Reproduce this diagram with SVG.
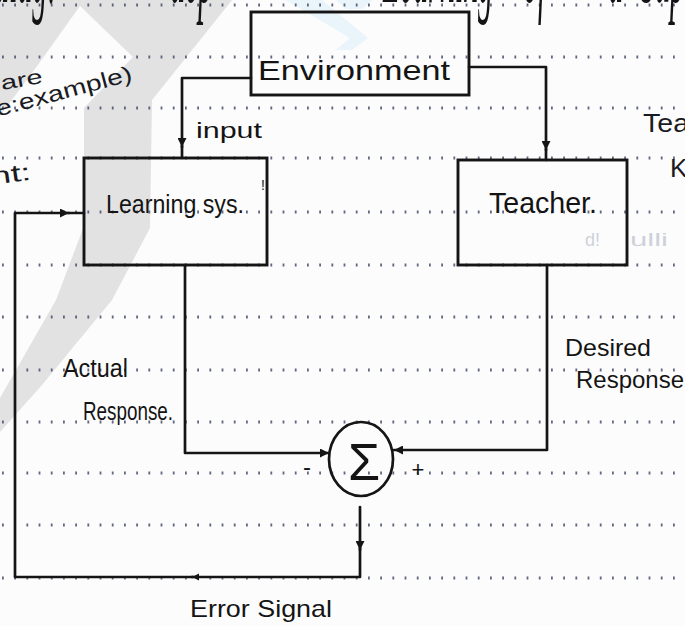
<svg xmlns="http://www.w3.org/2000/svg" width="685" height="626" viewBox="0 0 685 626">
  <defs>
    <style>
      .ink { stroke: #151515; stroke-width: 2.7; fill: none; stroke-linejoin: round; stroke-linecap: round; }
      .box { stroke: #151515; stroke-width: 2.9; fill: none; }
      .rule { stroke: #3e4462; stroke-width: 3; stroke-dasharray: 1.8 10.4; opacity: 0.8; }
      .hand { font-family: "Liberation Sans", "DejaVu Sans", sans-serif; fill: #141414; }
      .note { font-family: "Liberation Sans", "DejaVu Sans", sans-serif; fill: #1a1a22; }
      .ghost { font-family: "Liberation Sans", "DejaVu Sans", sans-serif; fill: #8a90ac; opacity: 0.4; }
      .top { font-family: "Liberation Serif", "DejaVu Serif", serif; font-style: italic; fill: #141414; }
      .wm { fill: #e2e2e2; }
      .wm-blue { fill: #eaf4fb; }
    </style>
    <marker id="arrow" viewBox="0 0 10 10" refX="10" refY="5" markerWidth="10" markerHeight="9" markerUnits="userSpaceOnUse" orient="auto">
      <path d="M0,0 L10,5 L0,10 Z" fill="#151515"/>
    </marker>
    <marker id="tick" viewBox="0 0 10 10" refX="10" refY="5" markerWidth="7" markerHeight="9" markerUnits="userSpaceOnUse" orient="auto">
      <path d="M0,0 L10,5 L0,10 Z" fill="#151515"/>
    </marker>
  </defs>

  <!-- paper -->
  <rect width="685" height="626" fill="#fcfcfc"/>

  <!-- watermark -->
  <g id="watermark">
    <polygon class="wm" points="0,0 84,0 80,6 40,62 0,116"/>
    <polygon class="wm" points="84,0 232,0 152,100 150,228 112,300 42,385 0,432 0,398 56,300 84,226 84,108 133,57 80,6"/>
    <polygon class="wm-blue" points="286,0 322,0 368,38 352,50 336,50 350,38"/>
    <polygon class="wm-blue" points="336,0 372,0 362,9 346,9"/>
  </g>

  <!-- ruled lines of the paper -->
  <g id="rules">
    <line class="rule" x1="2" y1="5" x2="685" y2="5"/>
    <line class="rule" x1="2" y1="57" x2="685" y2="57"/>
    <line class="rule" x1="2" y1="108" x2="685" y2="108"/>
    <line class="rule" x1="2" y1="158" x2="685" y2="158"/>
    <line class="rule" x1="2" y1="212" x2="685" y2="212"/>
    <line class="rule" x1="2" y1="265" x2="685" y2="265"/>
    <line class="rule" x1="2" y1="317" x2="685" y2="317"/>
    <line class="rule" x1="2" y1="370" x2="685" y2="370"/>
    <line class="rule" x1="2" y1="422" x2="685" y2="422"/>
    <line class="rule" x1="2" y1="473" x2="685" y2="473"/>
    <line class="rule" x1="2" y1="525" x2="685" y2="525"/>
    <line class="rule" x1="2" y1="578" x2="685" y2="578"/>
  </g>

  <!-- heading line, cut by the top edge -->
  <g id="heading">
    <text class="top" font-size="30" transform="translate(0,2) scale(1,3.6)">
      <tspan x="-6" y="0">diag:</tspan>
      <tspan x="170" y="0">dep</tspan>
      <tspan x="383" y="0">Learning</tspan>
      <tspan x="523" y="0">of</tspan>
      <tspan x="608" y="0">a</tspan>
      <tspan x="640" y="0">Sup</tspan>
    </text>
  </g>

  <!-- margin notes -->
  <g id="margin-notes">
    <text class="note" x="2" y="90" font-size="20" transform="rotate(-10 2 90)" textLength="42" lengthAdjust="spacingAndGlyphs">are</text>
    <text class="note" x="-2" y="116" font-size="22" transform="rotate(-15 0 116)" textLength="140" lengthAdjust="spacingAndGlyphs">e:example)</text>
    <text class="note" x="-8" y="184" font-size="24" transform="rotate(-8 0 184)" textLength="40" lengthAdjust="spacingAndGlyphs">nt:</text>
    <text class="note" x="643" y="132" font-size="26" textLength="46" lengthAdjust="spacingAndGlyphs">Tea</text>
    <text class="note" x="670" y="177" font-size="26">K</text>
    <text class="ghost" x="585" y="246" font-size="18">d!</text>
    <text class="ghost" x="630" y="246" font-size="18" textLength="38" lengthAdjust="spacingAndGlyphs">ulli</text>
  </g>

  <!-- connectors -->
  <g id="connectors">
    <!-- Environment to Learning system (input) -->
    <path class="ink" d="M251,78 H182 V147" marker-end="url(#arrow)"/>
    <path class="ink" d="M182,146 V158"/>
    <!-- Environment to Teacher -->
    <path class="ink" d="M469,67 H546 V150" marker-end="url(#arrow)"/>
    <path class="ink" d="M546,149 V160"/>
    <!-- Learning system to summing point (actual response) -->
    <path class="ink" d="M185,265 V453 H329" marker-end="url(#arrow)"/>
    <!-- Teacher to summing point (desired response) -->
    <path class="ink" d="M547,265 V450 H394" marker-end="url(#arrow)"/>
    <!-- error signal fed back to the learning system -->
    <path class="ink" d="M360,507 V550" marker-end="url(#arrow)"/>
    <path class="ink" d="M360,548 V577 H192" marker-end="url(#tick)"/>
    <path class="ink" d="M193,577 H15 V213 H69" marker-end="url(#arrow)"/>
    <path class="ink" d="M68,213 H84"/>
  </g>

  <!-- nodes -->
  <g id="environment">
    <rect class="box" x="251" y="12" width="218" height="83"/>
    <text class="hand" x="258" y="80" font-size="28" textLength="192" lengthAdjust="spacingAndGlyphs">Environment</text>
  </g>

  <g id="learning-system">
    <rect class="box" x="84" y="158" width="183" height="107"/>
    <text class="hand" x="106" y="213" font-size="26" textLength="138" lengthAdjust="spacingAndGlyphs">Learning sys.</text>
    <text class="hand" x="261" y="190" font-size="14">!</text>
  </g>

  <g id="teacher">
    <rect class="box" x="458" y="160" width="169" height="105"/>
    <text class="hand" x="489" y="213" font-size="29" textLength="108" lengthAdjust="spacingAndGlyphs">Teacher.</text>
  </g>

  <g id="summing-point">
    <ellipse class="ink" cx="361" cy="459" rx="32" ry="37"/>
    <text class="hand" x="364" y="480" font-size="52" text-anchor="middle">Σ</text>
    <text class="hand" x="303" y="475" font-size="24">-</text>
    <text class="hand" x="418" y="477" font-size="22" text-anchor="middle">+</text>
  </g>

  <!-- connector labels -->
  <g id="labels">
    <text class="hand" x="196" y="138" font-size="22" textLength="66" lengthAdjust="spacingAndGlyphs">input</text>
    <text class="hand" x="63" y="377" font-size="26" textLength="65" lengthAdjust="spacingAndGlyphs">Actual</text>
    <text class="hand" x="83" y="420" font-size="26" textLength="90" lengthAdjust="spacingAndGlyphs">Response.</text>
    <text class="hand" x="565" y="356" font-size="24" textLength="86" lengthAdjust="spacingAndGlyphs">Desired</text>
    <text class="hand" x="576" y="388" font-size="24" textLength="108" lengthAdjust="spacingAndGlyphs">Response</text>
    <text class="hand" x="190" y="617" font-size="24" textLength="142" lengthAdjust="spacingAndGlyphs">Error Signal</text>
  </g>
</svg>
